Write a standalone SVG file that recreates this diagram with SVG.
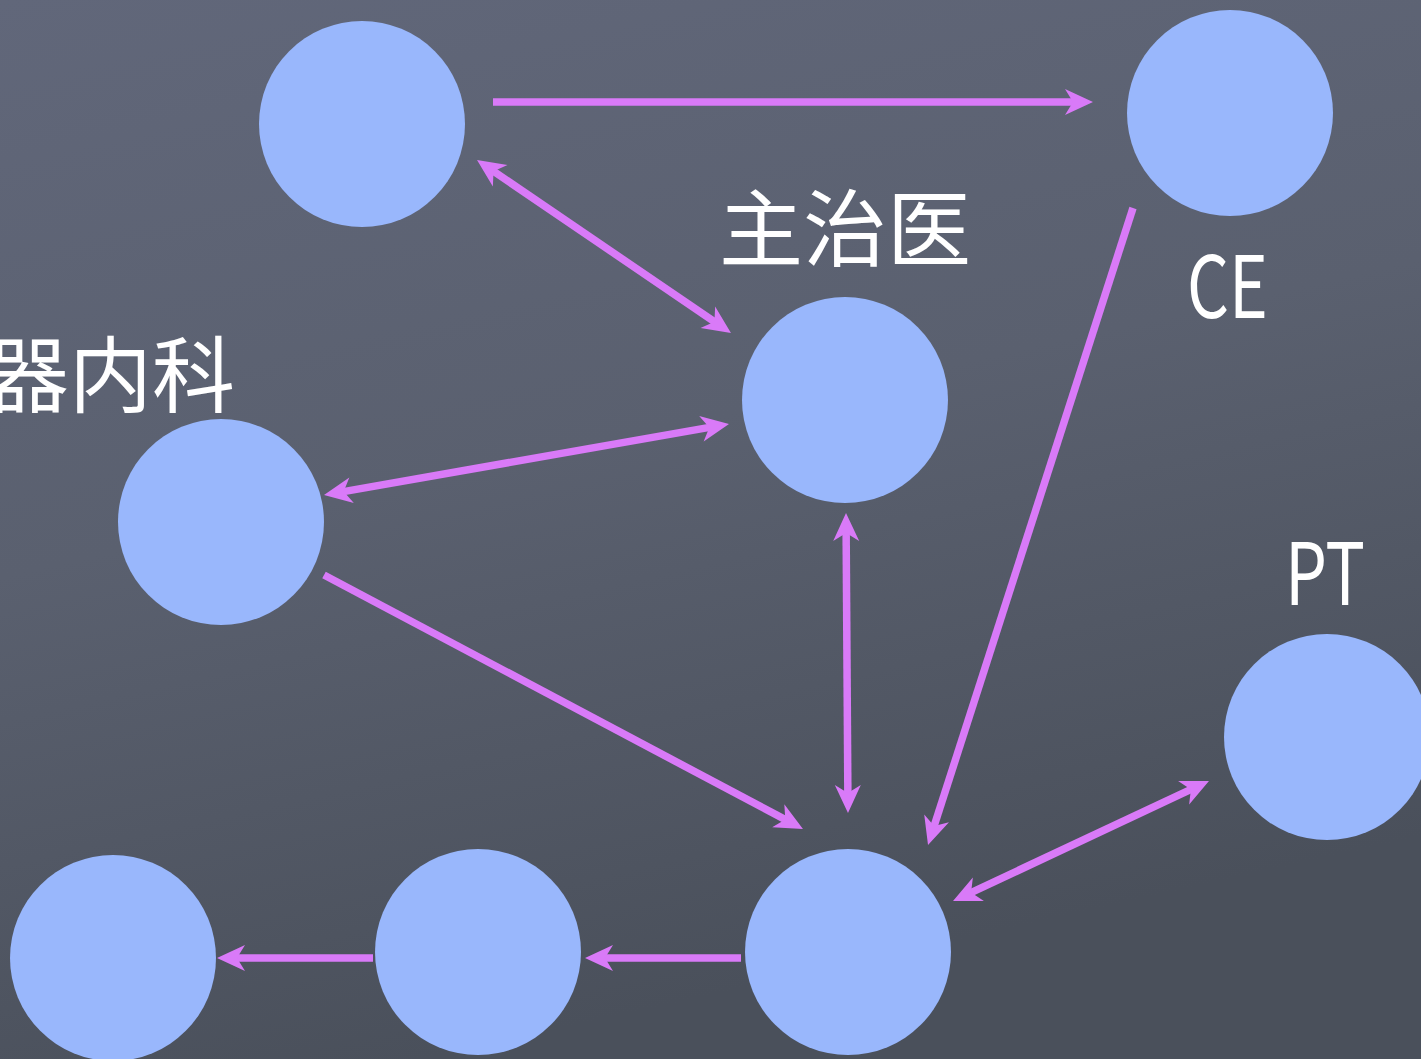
<svg xmlns="http://www.w3.org/2000/svg" width="1421" height="1059" viewBox="0 0 1421 1059">
<defs>
<linearGradient id="bg" x1="0" y1="0" x2="0.3" y2="1">
<stop offset="0" stop-color="#61677a"/>
<stop offset="0.5" stop-color="#5a606f"/>
<stop offset="1" stop-color="#4a505b"/>
</linearGradient>
<marker id="ah" viewBox="-32 -16 34 32" refX="-14" refY="0" markerWidth="34" markerHeight="32" markerUnits="userSpaceOnUse" orient="auto-start-reverse" overflow="visible">
<path d="M0,0 L-28,-13 L-20,0 L-28,13 Z" fill="#d97af8"/>
</marker>
</defs>
<style>
.node{fill:#99b7fc}
.lbl{fill:#ffffff;font-family:"Noto Sans CJK SC","Noto Sans",sans-serif}
.c{stroke:#d97af8;stroke-width:7.5;fill:none}
.e{marker-end:url(#ah)}
.b{marker-start:url(#ah);marker-end:url(#ah)}
</style>
<rect width="1421" height="1059" fill="url(#bg)"/>
<g id="connectors">
<line class="c e" x1="493" y1="102" x2="1079" y2="102"/>
<line class="c b" x1="488.6" y1="167.9" x2="719.4" y2="325.1"/>
<line class="c b" x1="337.8" y1="492.6" x2="715.2" y2="426.4"/>
<line class="c e" x1="324" y1="575" x2="790.6" y2="822.4"/>
<line class="c b" x1="846.1" y1="527" x2="847.9" y2="799"/>
<line class="c e" x1="1133" y1="208" x2="932.3" y2="831.7"/>
<line class="c b" x1="965.7" y1="895.1" x2="1196.3" y2="786.9"/>
<line class="c e" x1="741" y1="958" x2="599" y2="958"/>
<line class="c e" x1="373" y1="958" x2="231" y2="958"/>
</g>
<g id="node-top"><circle class="node" cx="362" cy="124" r="103"/></g>
<g id="node-ce"><circle class="node" cx="1230" cy="113" r="103"/><text class="lbl" x="1187" y="318" font-size="86" textLength="81" lengthAdjust="spacingAndGlyphs">CE</text></g>
<g id="node-attending"><circle class="node" cx="845" cy="400" r="103"/><text class="lbl" x="845" y="260" font-size="84" text-anchor="middle">主治医</text></g>
<g id="node-internal"><circle class="node" cx="221" cy="522" r="103"/><text class="lbl" x="235" y="406" font-size="83" text-anchor="end">器内科</text></g>
<g id="node-pt"><circle class="node" cx="1327" cy="737" r="103"/><text class="lbl" x="1285" y="605" font-size="86" textLength="80" lengthAdjust="spacingAndGlyphs">PT</text></g>
<g id="node-bottom-center"><circle class="node" cx="848" cy="952" r="103"/></g>
<g id="node-bottom-middle"><circle class="node" cx="478" cy="952" r="103"/></g>
<g id="node-bottom-left"><circle class="node" cx="113" cy="958" r="103"/></g>
</svg>
